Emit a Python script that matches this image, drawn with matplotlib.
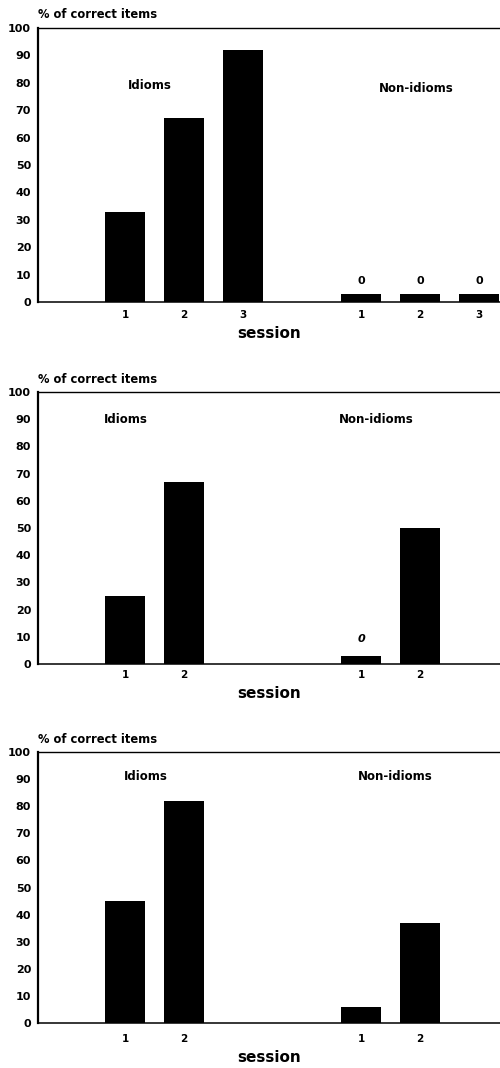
import matplotlib
matplotlib.use('Agg')
import matplotlib.pyplot as plt

plt.rcParams['font.family'] = ['DejaVu Sans']
plt.rcParams['font.weight'] = 'bold'

# panel data
sessions_1 = [1, 2, 3]
idioms_1 = [33, 67, 92]
nonidioms_1 = [3, 3, 3]
nonid_notes_1 = ['0', '0', '0']

sessions_2 = [1, 2]
idioms_2 = [25, 67]
nonidioms_2 = [3, 50]
nonid_notes_2 = ['0', '']

sessions_3 = [1, 2]
idioms_3 = [45, 82]
nonidioms_3 = [6, 37]
nonid_notes_3 = ['', '']

yticks = list(range(0, 101, 10))

panels = [
    # sessions, idioms, nonidioms, notes, axes rect, tick pad, italic notes, text y
    (sessions_1, idioms_1, nonidioms_1, nonid_notes_1, [0.076, 0.7172, 0.924, 0.2566], 6, False, (79, 78)),
    (sessions_2, idioms_2, nonidioms_2, nonid_notes_2, [0.076, 0.3783, 0.924, 0.2547], 4.5, True, (90, 90)),
    (sessions_3, idioms_3, nonidioms_3, nonid_notes_3, [0.076, 0.0421, 0.924, 0.2537], 8, False, (91, 91)),
]
label_x = [(150, 416), (126, 376), (146, 395)]

fig = plt.figure(figsize=(5, 10.68), dpi=100)

for i, (sess, idi, non, notes, rect, pad, ital, ty) in enumerate(panels):
    ax = fig.add_axes(rect)
    n = len(sess)
    xi = [k for k in range(n)]
    xn = [k + 4 for k in range(n)]
    ax.bar(xi, idi, width=0.68, color='black')
    ax.bar(xn, non, width=0.68, color='black')
    for x, v, t in zip(xn, non, notes):
        if t:
            ax.text(x, v + (4.5 if not ital else 6), t, ha='center', va='center',
                    fontsize=8, fontweight='bold',
                    style='italic' if ital else 'normal')
    ax.set_xlim(-1.475, 6.356)
    ax.set_ylim(0, 100)
    ax.set_yticks(yticks)
    ax.set_yticklabels([str(y) for y in yticks], fontsize=8, fontweight='bold')
    ax.set_xticks(xi + xn)
    ax.set_xticklabels([str(s) for s in sess] * 2, fontsize=7.5, fontweight='bold')
    ax.tick_params(axis='both', length=0)
    ax.tick_params(axis='y', pad=5)
    ax.tick_params(axis='x', pad=pad)
    ax.spines['right'].set_visible(False)
    ax.spines['left'].set_linewidth(1.6)
    ax.spines['bottom'].set_linewidth(1.1)
    ax.spines['top'].set_linewidth(1.0)
    ax.set_xlabel('session', fontsize=11, fontweight='bold', labelpad=4)
    ax.text(0, 1 + 13 / 274, '% of correct items', transform=ax.transAxes,
            ha='left', va='center', fontsize=8.3, fontweight='bold')
    # group names, positions converted from pixel estimates
    lx_i = (label_x[i][0] - 125) / 59
    lx_n = (label_x[i][1] - 125) / 59
    ax.text(lx_i, ty[0], 'Idioms', ha='center', va='center', fontsize=8.5, fontweight='bold')
    ax.text(lx_n, ty[1], 'Non-idioms', ha='center', va='center', fontsize=8.5, fontweight='bold')

fig.savefig('out.png', dpi=100)
